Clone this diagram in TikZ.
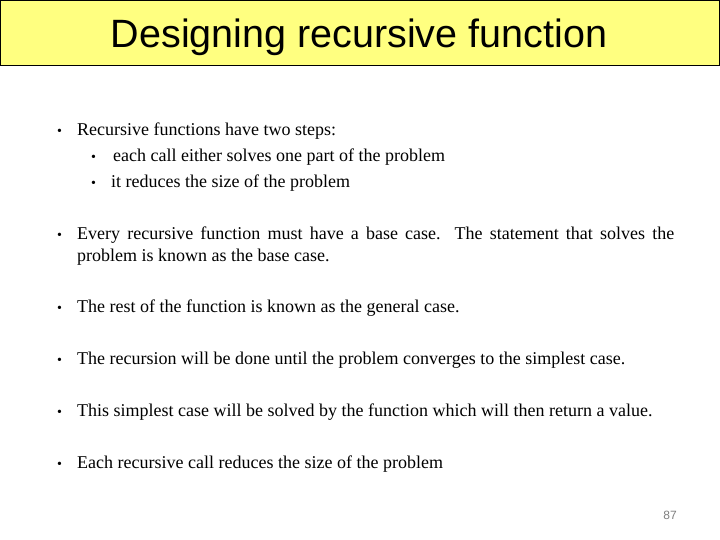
\documentclass[tikz,border=0pt]{standalone}
\usepackage{fontspec}
\setmainfont{Liberation Serif}
\newfontfamily\arial{Liberation Sans}
\definecolor{titlefill}{HTML}{FFFF80}
\begin{document}
\begin{tikzpicture}[x=1pt,y=-1pt,
  body/.style={anchor=base west,inner sep=0pt,font=\fontsize{18}{22}\selectfont},
  bul/.style={anchor=base west,inner sep=0pt,font=\fontsize{14}{16}\selectfont}]
\useasboundingbox (0,0) rectangle (720,540);
\fill[white] (0,0) rectangle (720,540);
\draw[fill=titlefill,line width=1pt] (0.5,0.5) rectangle (719.5,66);
\node[inner sep=0pt,font=\arial\fontsize{39.5}{44}\selectfont] (title) at (359,37.5) {Designing recursive function};
% bullets
\foreach \y/\n in {135.5/b1,239.5/b2,312.5/b3,364.5/b4,416.5/b5,468.5/b6}{\node[bul] (\n) at (57,\y) {•};}
\foreach \y/\n in {161.5/s1,187.5/s2}{\node[bul] (\n) at (91,\y) {•};}
\node[body] (t1) at (77,135.5) {Recursive functions have two steps:};
\node[body] (t1a) at (113,161.5) {each call either solves one part of the problem};
\node[body] (t1b) at (111,187.5) {it reduces the size of the problem};
\node[body,text width=597pt,align=justify,anchor=north west] (t2) at (77,226.5)
  {\hyphenpenalty=10000 Every recursive function must have a base case. The statement that solves the\linebreak problem is known as the base case.};
\node[body] (t3) at (77,312.5) {The rest of the function is known as the general case.};
\node[body] (t4) at (77,364.5) {The recursion will be done until the problem converges to the simplest case.};
\node[body] (t5) at (77,416.5) {This simplest case will be solved by the function which will then return a value.};
\node[body] (t6) at (77,468.5) {Each recursive call reduces the size of the problem};
\node[inner sep=0pt,text=gray,font=\arial\fontsize{12}{14}\selectfont] (pg) at (670,515) {87};
\end{tikzpicture}
\end{document}
